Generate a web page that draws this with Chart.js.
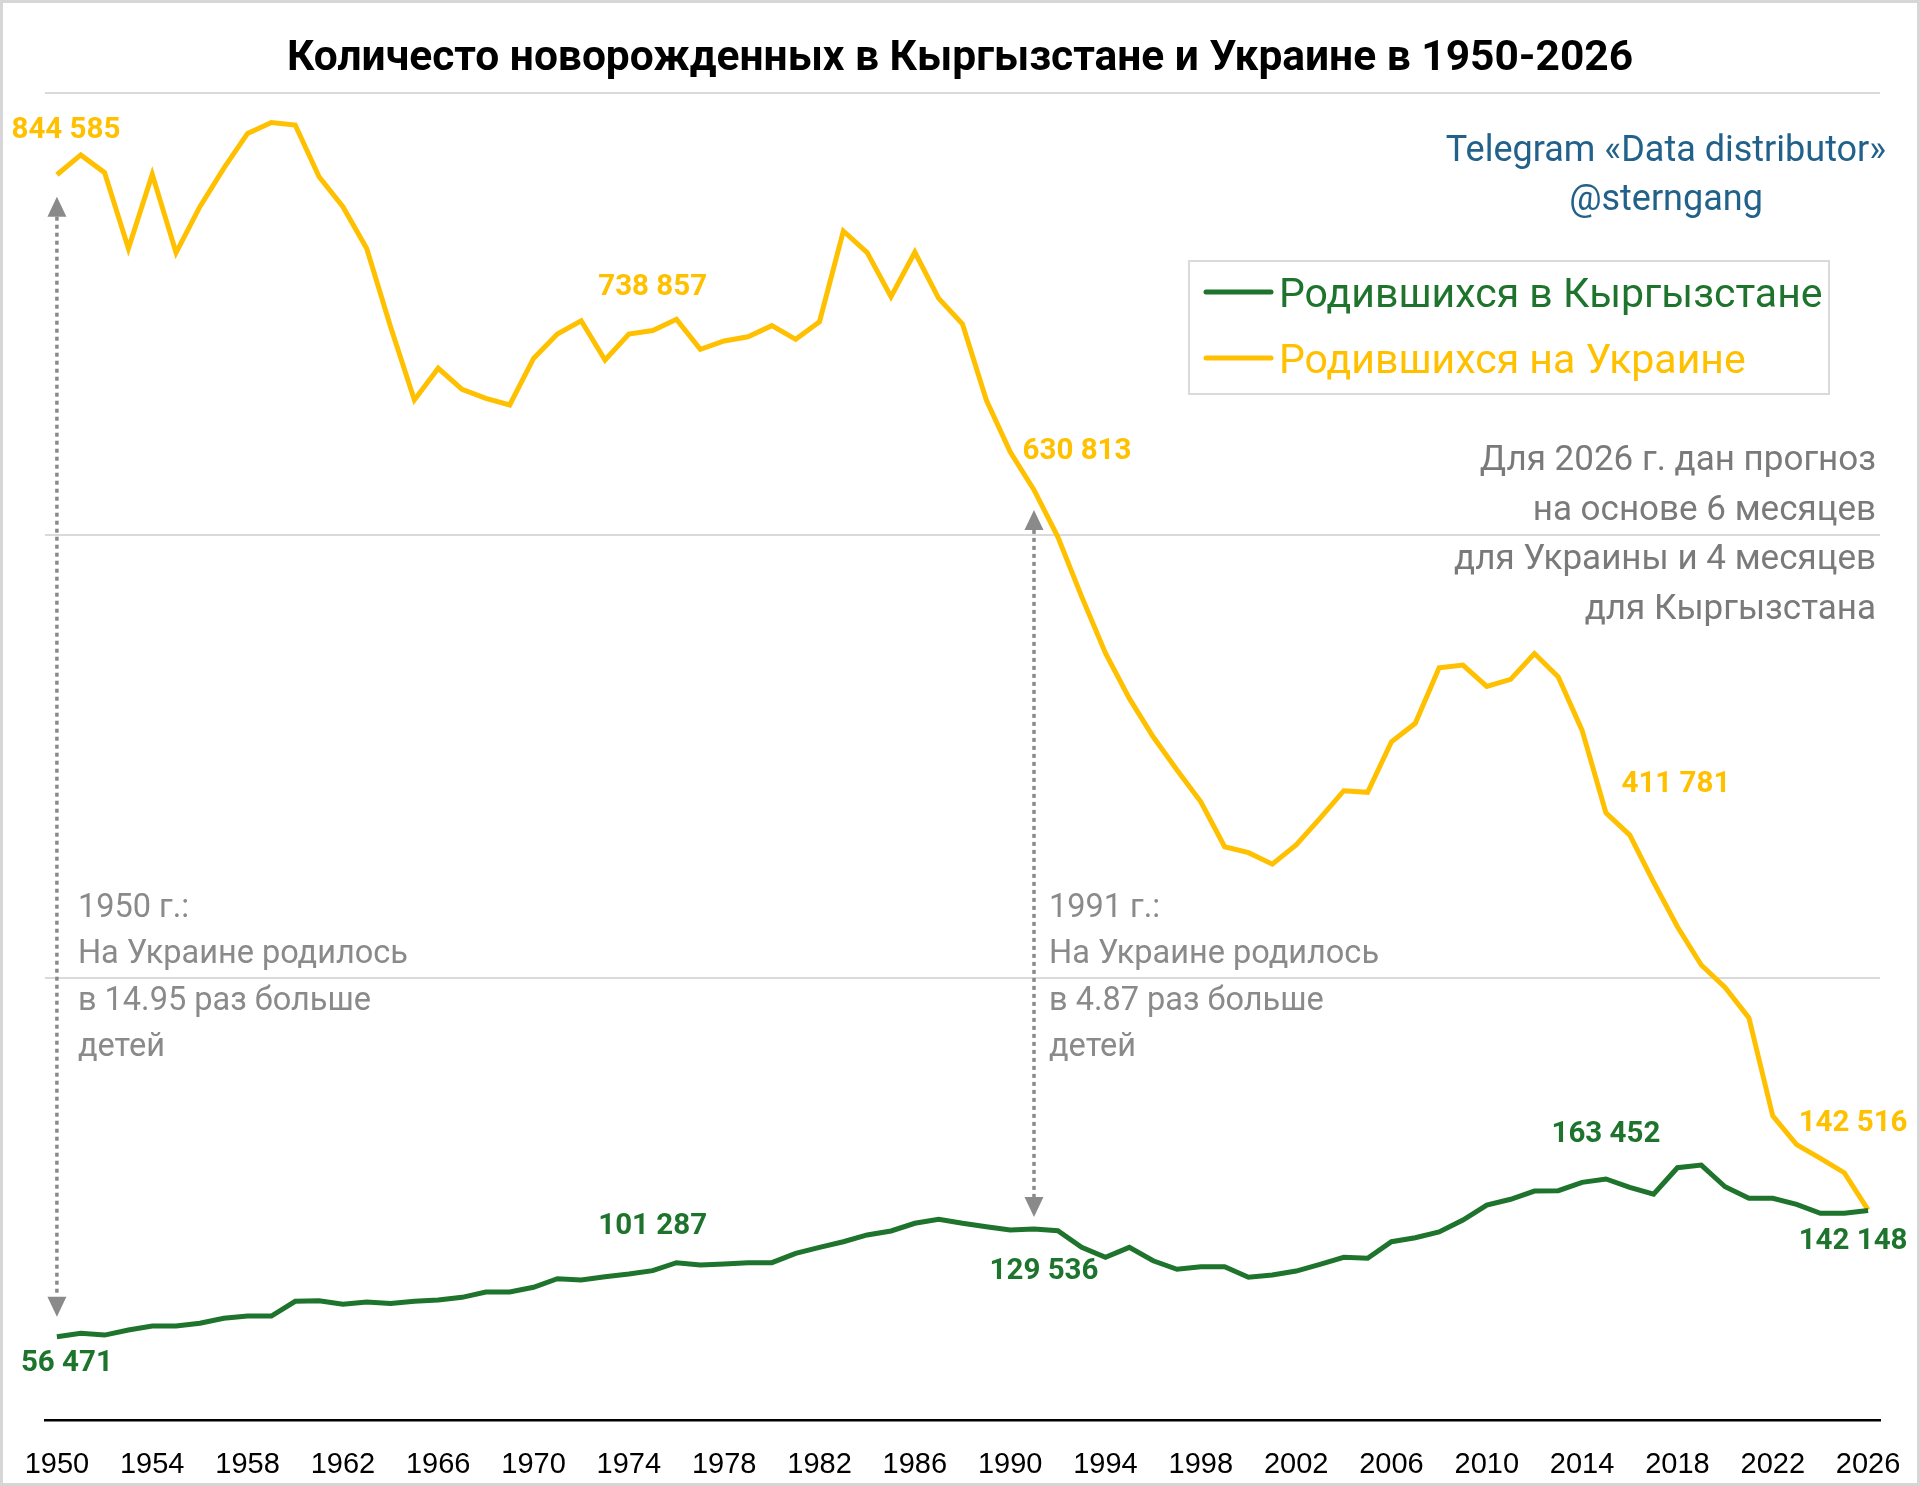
<!DOCTYPE html>
<html>
<head>
<meta charset="utf-8">
<script src="https://cdn.jsdelivr.net/npm/chart.js@4.4.1/dist/chart.umd.min.js"></script>
<style>
  html, body { margin: 0; padding: 0; background: #fff; }
  #wrap { width: 1920px; height: 1486px; }
</style>
</head>
<body>
<div id="wrap"><canvas id="births" width="1920" height="1486"></canvas></div>
<script>
////////// Data

const years = [
  "1950", "1951", "1952", "1953", "1954", "1955", "1956", "1957", "1958", "1959",
  "1960", "1961", "1962", "1963", "1964", "1965", "1966", "1967", "1968", "1969",
  "1970", "1971", "1972", "1973", "1974", "1975", "1976", "1977", "1978", "1979",
  "1980", "1981", "1982", "1983", "1984", "1985", "1986", "1987", "1988", "1989",
  "1990", "1991", "1992", "1993", "1994", "1995", "1996", "1997", "1998", "1999",
  "2000", "2001", "2002", "2003", "2004", "2005", "2006", "2007", "2008", "2009",
  "2010", "2011", "2012", "2013", "2014", "2015", "2016", "2017", "2018", "2019",
  "2020", "2021", "2022", "2023", "2024", "2025", "2026",
];

const tickYears = [
  "1950", "1954", "1958", "1962", "1966", "1970", "1974", "1978", "1982", "1986",
  "1990", "1994", "1998", "2002", "2006", "2010", "2014", "2018", "2022", "2026",
];

// Кыргызстан
const birthsKyrgyzstan = [
  56471, 58800, 57600, 61000, 63700, 63700, 65600, 69000, 70500, 70500,
  80500, 80800, 78500, 80000, 79100, 80500, 81400, 83200, 86800, 86800,
  90000, 95800, 95000, 97200, 99000, 101287, 106700, 105100, 105800, 106700,
  106700, 113000, 117100, 120900, 125500, 128200, 133400, 136100, 133400, 131100,
  128900, 129536, 128400, 117100, 110300, 117100, 108000, 102200, 104000, 104000,
  96800, 98300, 101000, 105600, 110300, 109700, 120900, 123600, 127500, 135600,
  145800, 149700, 155300, 155500, 161200, 163452, 157800, 153100, 171100, 172900,
  158200, 150400, 150400, 146300, 140200, 140200, 142148,
];

// Украина
const birthsUkraine = [
  844585, 858000, 846000, 794600, 844800, 791700, 822900, 848900, 872600, 880000,
  878300, 843200, 822900, 794600, 741500, 691800, 713300, 699000, 692900, 688400,
  720000, 736500, 745500, 718900, 736500, 738857, 746500, 726200, 731800, 734700,
  742200, 732900, 744900, 806400, 791700, 761800, 792000, 760700, 743300, 691800,
  656700, 630813, 599000, 558400, 520000, 489400, 463400, 440800, 419300, 388800,
  384800, 377000, 390000, 408000, 426800, 425700, 460000, 472500, 510200, 512000,
  497500, 502300, 519800, 504000, 467700, 411781, 396700, 364800, 334500, 308600,
  293300, 272700, 206200, 186800, 177500, 167700, 142516,
];

const seriesNames = ["Родившихся в Кыргызстане", "Родившихся на Украине"];

////////// Styles

const GREEN = "#1E742C";
const YELLOW = "#FFC000";
const GRAY = "#7A7A7A";

// which values get a number printed next to them (dataset, year, offset from point)
const valueLabels = [
  { set: 1, year: "1950", dx: 9, dy: -44 },
  { set: 1, year: "1975", dx: 0, dy: -43 },
  { set: 1, year: "1991", dx: 43, dy: -38 },
  { set: 1, year: "2015", dx: 70, dy: -28 },
  { set: 1, year: "2026", dx: -15, dy: -86 },
  { set: 0, year: "1950", dx: 10, dy: 27 },
  { set: 0, year: "1975", dx: 0, dy: -44 },
  { set: 0, year: "1991", dx: 10, dy: 43 },
  { set: 0, year: "2015", dx: 0, dy: -44 },
  { set: 0, year: "2026", dx: -15, dy: 31 },
];

const notes = [
  { year: "1950", dx: 21, lines: ["1950 г.:", "На Украине родилось", "в 14.95 раз больше", "детей"] },
  { year: "1991", dx: 15, lines: ["1991 г.:", "На Украине родилось", "в 4.87 раз больше", "детей"] },
];

const arrows = [
  { year: "1950", top: 22, bottom: -20 },
  { year: "1991", top: 20, bottom: -12 },
];

function fmt(v) {
  return String(v).replace(/\B(?=(\d{3})+(?!\d))/g, " ");
}

function drawArrow(ctx, x, yTop, yBot) {
  const head = 20, half = 9.5;
  ctx.strokeStyle = "#8A8A8A";
  ctx.fillStyle = "#8A8A8A";
  ctx.lineWidth = 3.5;
  ctx.setLineDash([4, 4]);
  ctx.beginPath();
  ctx.moveTo(x, yTop + head);
  ctx.lineTo(x, yBot - head);
  ctx.stroke();
  ctx.setLineDash([]);
  ctx.beginPath();
  ctx.moveTo(x, yTop);
  ctx.lineTo(x - half, yTop + head);
  ctx.lineTo(x + half, yTop + head);
  ctx.closePath();
  ctx.fill();
  ctx.beginPath();
  ctx.moveTo(x, yBot);
  ctx.lineTo(x - half, yBot - head);
  ctx.lineTo(x + half, yBot - head);
  ctx.closePath();
  ctx.fill();
}

const overlay = {
  id: "overlay",
  afterDatasetsDraw(chart) {
    const ctx = chart.ctx;
    const xs = chart.scales.x;
    const ys = chart.scales.y;
    const data = chart.data.datasets;
    ctx.save();

    // frame
    ctx.strokeStyle = "#D6D6D6";
    ctx.lineWidth = 3;
    ctx.strokeRect(1.5, 1.5, 1917, 1483);

    // title
    ctx.fillStyle = "#000";
    ctx.font = "bold 42.5px Roboto";
    ctx.textAlign = "center";
    ctx.textBaseline = "alphabetic";
    ctx.fillText("Количесто новорожденных в Кыргызстане и Украине в 1950-2026", 960, 70);

    // source
    ctx.fillStyle = "#22628A";
    ctx.font = "36px Roboto";
    ctx.fillText("Telegram «Data distributor»", 1666, 161);
    ctx.fillText("@sterngang", 1666, 210);

    // legend
    ctx.strokeStyle = "#DADADA";
    ctx.lineWidth = 2;
    ctx.strokeRect(1189, 261, 640, 133);
    ctx.textAlign = "left";
    ctx.font = "41px Roboto";
    [307, 373].forEach((base, i) => {
      const color = data[i].borderColor;
      ctx.strokeStyle = color;
      ctx.lineWidth = 5;
      ctx.lineCap = "round";
      ctx.beginPath();
      ctx.moveTo(1206, base - 15);
      ctx.lineTo(1271, base - 15);
      ctx.stroke();
      ctx.fillStyle = color;
      ctx.fillText(data[i].label, 1279, base);
    });
    ctx.lineCap = "butt";

    // forecast note
    ctx.fillStyle = GRAY;
    ctx.font = "35px Roboto";
    ctx.textAlign = "right";
    ["Для 2026 г. дан прогноз", "на основе 6 месяцев", "для Украины и 4 месяцев", "для Кыргызстана"]
      .forEach((t, i) => ctx.fillText(t, 1876, 470 + i * 49.5));

    // arrows between the two lines
    arrows.forEach((a) => {
      const i = years.indexOf(a.year);
      const px = xs.getPixelForValue(i);
      const yU = ys.getPixelForValue(data[1].data[i]);
      const yK = ys.getPixelForValue(data[0].data[i]);
      drawArrow(ctx, px, yU + a.top, yK + a.bottom);
    });

    // ratio notes
    ctx.textAlign = "left";
    ctx.font = "32.5px Roboto";
    notes.forEach((n) => {
      const px = xs.getPixelForValue(years.indexOf(n.year));
      n.lines.forEach((t, i) => ctx.fillText(t, px + n.dx, 917 + i * 46.3));
    });

    // value labels
    ctx.textAlign = "center";
    ctx.textBaseline = "middle";
    ctx.font = "bold 29.5px Roboto";
    valueLabels.forEach((l) => {
      const i = years.indexOf(l.year);
      const v = data[l.set].data[i];
      ctx.fillStyle = data[l.set].borderColor;
      ctx.fillText(fmt(v), xs.getPixelForValue(i) + l.dx, ys.getPixelForValue(v) + l.dy);
    });

    ctx.restore();
  },
};

////////// Chart

const birthsEl = document.getElementById("births").getContext("2d");

const birthsChart = new Chart(birthsEl, {
  type: "line",
  data: {
    labels: years,
    datasets: [
      {
        label: seriesNames[0],
        data: birthsKyrgyzstan,
        borderColor: GREEN,
        backgroundColor: GREEN,
        borderWidth: 5,
        pointRadius: 0,
        fill: false,
        tension: 0,
      },
      {
        label: seriesNames[1],
        data: birthsUkraine,
        borderColor: YELLOW,
        backgroundColor: YELLOW,
        borderWidth: 5,
        pointRadius: 0,
        fill: false,
        tension: 0,
      },
    ],
  },
  options: {
    responsive: false,
    animation: false,
    layout: {
      padding: { left: 45, right: 40, top: 93, bottom: 0 },
    },
    plugins: {
      legend: { display: false },
      title: { display: false },
      tooltip: { enabled: false },
    },
    scales: {
      x: {
        offset: true,
        grid: { display: false, drawTicks: false },
        border: { display: true, color: "#000", width: 2.5 },
        ticks: {
          autoSkip: false,
          maxRotation: 0,
          padding: 28,
          color: "#000",
          font: { family: "Liberation Sans", size: 29 },
          callback: (val, i) => (tickYears.includes(years[i]) ? years[i] : ""),
        },
        afterFit: (scale) => {
          scale.height = 66;
          // the labels fit inside the side padding, don't let them shrink the plot
          scale.paddingLeft = 0;
          scale.paddingRight = 0;
        },
      },
      y: {
        min: 0,
        max: 900000,
        grid: { color: "#DADADA", lineWidth: 2, drawTicks: false },
        border: { display: false },
        ticks: { display: false, stepSize: 300000 },
        afterFit: (scale) => {
          scale.width = 0;
        },
      },
    },
  },
  plugins: [overlay],
});
</script>
</body>
</html>
